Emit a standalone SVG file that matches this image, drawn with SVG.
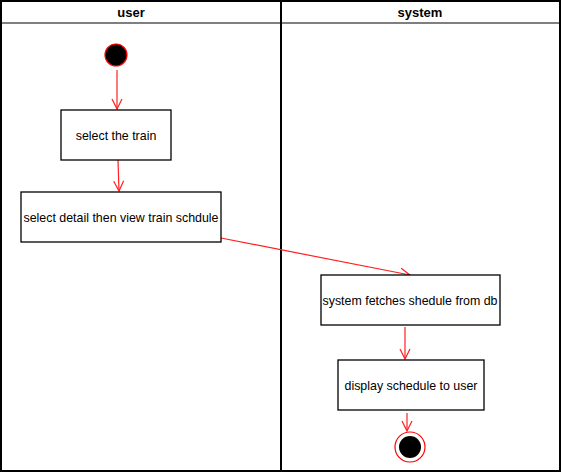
<svg xmlns="http://www.w3.org/2000/svg" width="561" height="473" viewBox="0 0 561 473">
<style>
.lane{fill:none;stroke:#000;stroke-width:2}
.hdr{font-family:"Liberation Sans",Arial,sans-serif;font-size:13px;font-weight:bold;text-anchor:middle;fill:#000}
.box{fill:#fff;stroke:#000;stroke-width:1.3}
.lbl{font-family:"Liberation Sans",Arial,sans-serif;font-size:12.4px;text-anchor:middle;fill:#000}
.conn{fill:none;stroke:#ff2020;stroke-width:1.2;marker-end:url(#arr)}
</style>
<defs>
<marker id="arr" viewBox="0 0 12 12" refX="11" refY="6" markerWidth="12" markerHeight="12" markerUnits="userSpaceOnUse" orient="auto">
<path d="M1,1 L11,6 L1,11" fill="none" stroke="#ff2020" stroke-width="1.2"/>
</marker>
</defs>
<rect width="561" height="473" fill="#fff"/>
<g id="lanes">
<rect class="lane" x="1" y="1" width="559" height="470"/>
<line class="lane" x1="1" y1="23" x2="560" y2="23" style="stroke-width:1.2"/>
<line class="lane" x1="281" y1="1" x2="281" y2="471"/>
<text class="hdr" x="131" y="17">user</text>
<text class="hdr" x="420" y="17">system</text>
</g>
<g id="connectors">
<line class="conn" x1="117" y1="70" x2="117" y2="109"/>
<line class="conn" x1="118" y1="160" x2="119" y2="191"/>
<line class="conn" x1="221" y1="238" x2="410" y2="275"/>
<line class="conn" x1="405" y1="327" x2="405" y2="359"/>
<line class="conn" x1="407" y1="413" x2="407" y2="431"/>
</g>
<g id="start">
<circle cx="116" cy="55" r="11" fill="#000" stroke="#ff0000" stroke-width="1.2"/>
</g>
<g id="n1">
<rect class="box" x="61" y="110" width="110" height="50"/>
<text class="lbl" x="116" y="140">select the train</text>
</g>
<g id="n2">
<rect class="box" x="21" y="192" width="200" height="50"/>
<text class="lbl" x="121" y="222">select detail then view train schdule</text>
</g>
<g id="n3">
<rect class="box" x="321" y="275" width="179" height="50"/>
<text class="lbl" x="410" y="305">system fetches shedule from db</text>
</g>
<g id="n4">
<rect class="box" x="338" y="360" width="146" height="50"/>
<text class="lbl" x="411" y="390">display schedule to user</text>
</g>
<g id="end">
<circle cx="410" cy="447" r="15" fill="#fff" stroke="#ff0000" stroke-width="1.2"/>
<circle cx="410" cy="447" r="11" fill="#000"/>
</g>
</svg>
